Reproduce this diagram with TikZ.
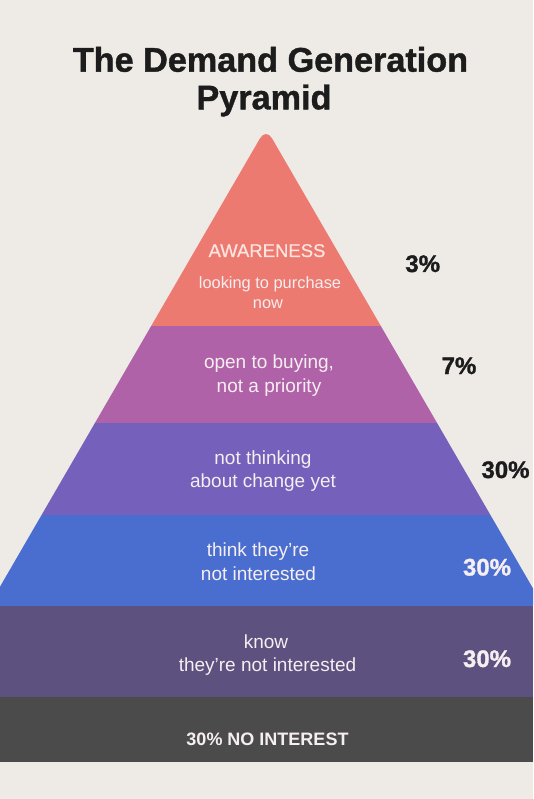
\documentclass[tikz,border=0pt]{standalone}
\usepackage{fontspec}
\setmainfont{Liberation Sans}
\newfontfamily\heavyfont[FakeBold=1.2]{Liberation Sans Bold}
\newfontfamily\semifont[FakeBold=0.6]{Liberation Sans}
\definecolor{bgc}{HTML}{EEEAE6}
\definecolor{coralc}{HTML}{EC7A70}
\definecolor{magc}{HTML}{B062A8}
\definecolor{purc}{HTML}{7560BB}
\definecolor{bluec}{HTML}{4A6ED0}
\definecolor{dpurc}{HTML}{5C517F}
\definecolor{dgreyc}{HTML}{4B4B4B}
\definecolor{inkc}{HTML}{1C1C1C}
\definecolor{lightc}{HTML}{F6EEF0}
\definecolor{pinkc}{HTML}{FCE4DF}
\tikzset{
  lbl/.style={anchor=base, inner sep=0pt, text=lightc, font=\fontsize{19}{24}\selectfont},
  toplbl/.style={anchor=base, inner sep=0pt, text=lightc, font=\fontsize{16.4}{20}\selectfont},
  pct/.style={anchor=base, inner sep=0pt, text=inkc, font=\heavyfont\fontsize{24}{28}\selectfont},
  wpct/.style={pct, text=lightc},
  ttl/.style={anchor=base, inner sep=0pt, text=inkc, font=\heavyfont\fontsize{34.2}{40}\selectfont},
}
\begin{document}
\begin{tikzpicture}[x=1pt,y=-1pt]
\fill[bgc] (0,0) rectangle (533,799);
\useasboundingbox (0,0) rectangle (533,799);
% pyramid bands clipped by triangle
\begin{scope}
  \clip (0,0) rectangle (533,799);
  \clip[rounded corners=12pt] (-11.2,606) -- (266,128) -- (543.2,606) -- cycle;
  \fill[coralc] (-20,100) rectangle (560,325.5);
  \fill[magc] (-20,325.5) rectangle (560,422.5);
  \fill[purc] (-20,422.5) rectangle (560,515);
  \fill[bluec] (-20,515) rectangle (560,606.5);
\end{scope}
\fill[dpurc] (0,606) rectangle (533,697);
\fill[dgreyc] (0,697) rectangle (533,761.5);
% title
\node[ttl] (t1) at (270.5,71.7) {The Demand Generation};
\node[ttl] (t2) at (264,109.3) {Pyramid};
% level texts
\node[anchor=base, inner sep=0pt, text=pinkc, font=\semifont\fontsize{18.5}{22}\selectfont] (aw) at (267,257) {AWARENESS};
\node[toplbl] (aw1) at (270,288) {looking to purchase};
\node[toplbl] (aw2) at (268,308) {now};
\node[lbl] (op1) at (269,368) {open to buying,};
\node[lbl] (op2) at (269,392.7) {not a priority};
\node[lbl] (nt1) at (263,464) {not thinking};
\node[lbl] (nt2) at (263,487) {about change yet};
\node[lbl] (th1) at (258,556.8) {think they’re};
\node[lbl] (th2) at (258.5,580.6) {not interested};
\node[lbl] (kn1) at (266,648) {know};
\node[lbl] (kn2) at (267.5,671.8) {they’re not interested};
\node[anchor=base, inner sep=0pt, text=lightc, font=\bfseries\fontsize{18}{22}\selectfont] (ni) at (267.5,745.6) {30\% NO INTEREST};
% percentages
\node[pct] (p1) at (422.7,272) {3\%};
\node[pct] (p2) at (459,374) {7\%};
\node[pct] (p3) at (505.5,478) {30\%};
\node[wpct] (p4) at (487,575.5) {30\%};
\node[wpct] (p5) at (487,667) {30\%};
\end{tikzpicture}
\end{document}
